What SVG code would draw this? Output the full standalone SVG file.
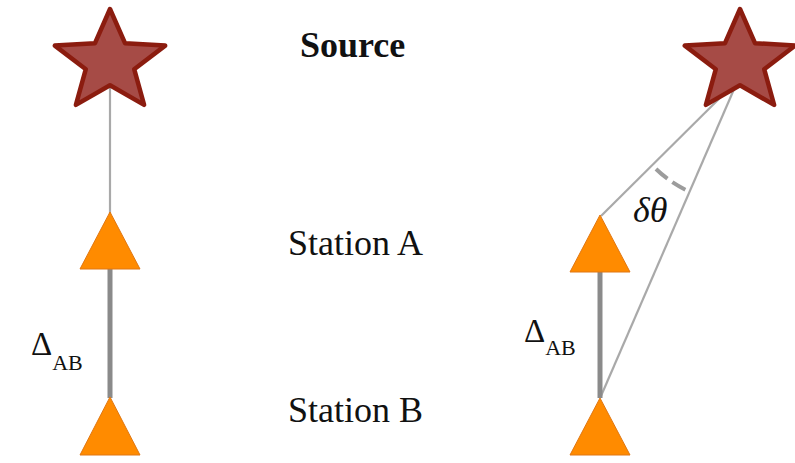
<svg xmlns="http://www.w3.org/2000/svg" width="795" height="463" viewBox="0 0 795 463">
  <defs>
    <style>
      .star { fill: #a64b46; stroke: #8b1c0f; stroke-width: 4.5; stroke-linejoin: round; }
      .tri { fill: #ff8b00; stroke: #e07712; stroke-width: 1; }
      .ray { stroke: #a9a9a9; stroke-width: 2.2; fill: none; }
      .base { stroke: #8a8a8a; stroke-width: 5; fill: none; }
      .arc { stroke: #9c9c9c; stroke-width: 4; fill: none; stroke-dasharray: 15 6; }
      text { font-family: "Liberation Serif", "DejaVu Serif", serif; fill: #111; }
    </style>
    <!-- five-pointed star, slightly wider than tall, with a broad inner radius -->
    <polygon id="starShape" points="0,-53 15,-18.8 55.2,-16.4 24.2,7.2 34.1,42.9 0,23.3 -34.1,42.9 -24.2,7.2 -55.2,-16.4 -15,-18.8"/>
  </defs>
  <rect width="795" height="463" fill="#ffffff"/>

  <!-- connectors -->
  <g id="connectors">
    <line class="ray" x1="110" y1="62" x2="110" y2="214"/>
    <line class="base" x1="110" y1="268" x2="110" y2="398"/>
    <line class="ray" x1="738" y1="80" x2="601" y2="216"/>
    <line class="ray" x1="738" y1="80" x2="601" y2="396"/>
    <line class="base" x1="600" y1="271" x2="600" y2="398"/>
    <path class="arc" d="M 656 169 A 118 118 0 0 0 686 190"/>
  </g>

  <!-- left column -->
  <g id="source-left">
    <use href="#starShape" class="star" x="110" y="62"/>
  </g>
  <g id="station-a-left">
    <polygon class="tri" points="110,212 140,269 80,269"/>
  </g>
  <g id="station-b-left">
    <polygon class="tri" points="110,397 140,455 80,455"/>
  </g>

  <!-- right column -->
  <g id="source-right">
    <use href="#starShape" class="star" x="740" y="62"/>
  </g>
  <g id="station-a-right">
    <polygon class="tri" points="600,215 630,272 570,272"/>
  </g>
  <g id="station-b-right">
    <polygon class="tri" points="600,398 630,455 570,455"/>
  </g>

  <!-- labels -->
  <g id="labels" font-family="'Liberation Serif', 'DejaVu Serif', serif">
    <text x="300" y="57" font-size="36" font-weight="bold">Source</text>
    <text x="288" y="255" font-size="36">Station A</text>
    <text x="288" y="422" font-size="36">Station B</text>
    <text x="31" y="355" font-size="33">Δ<tspan font-size="22" dy="15">AB</tspan></text>
    <text x="524" y="342" font-size="33">Δ<tspan font-size="22" dy="13">AB</tspan></text>
    <text x="633" y="222" font-size="36" font-style="italic">δθ</text>
  </g>
</svg>
